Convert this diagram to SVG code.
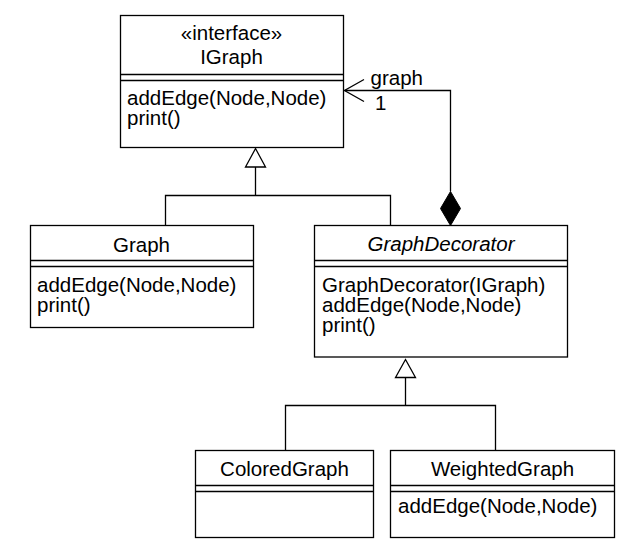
<svg xmlns="http://www.w3.org/2000/svg" width="629" height="550" viewBox="0 0 629 550">
<style>
  .box { fill: #ffffff; stroke: #000000; stroke-width: 1.3; }
  .sep { stroke: #000000; stroke-width: 1.3; fill: none; }
  .line { stroke: #000000; stroke-width: 1.3; fill: none; }
  text { font-family: "Liberation Sans", Arial, sans-serif; font-size: 20.5px; fill: #000000; }
  .c { text-anchor: middle; }
  .i { font-style: italic; }
</style>
<rect width="629" height="550" fill="#ffffff"/>
<g id="connectors">
  <polyline class="line" points="255.5,167 255.5,195.5"/>
  <polyline class="line" points="165.5,225.5 165.5,195.5 390.5,195.5 390.5,225.5"/>
  <polygon class="line" style="fill:#ffffff" points="255.5,148.5 265.5,167 245.5,167"/>
  <polyline class="line" points="405.5,377.5 405.5,405.5"/>
  <polyline class="line" points="285.5,450.5 285.5,405.5 495.5,405.5 495.5,450.5"/>
  <polygon class="line" style="fill:#ffffff" points="405.5,359.5 415.5,377.5 395.5,377.5"/>
  <polyline class="line" points="450.5,191.5 450.5,90.5 344.5,90.5"/>
  <polyline class="line" points="364,79.5 344.5,90.5 364,101.5"/>
  <polygon style="fill:#000000;stroke:#000000;stroke-width:1" points="450.5,191.5 460.5,208.5 450.5,225.5 440.5,208.5"/>
  <text x="370.5" y="85">graph</text>
  <text x="375" y="110">1</text>
</g>
<g id="IGraph">
  <rect class="box" x="120.5" y="15.5" width="223" height="132"/>
  <line class="sep" x1="120.5" y1="74.5" x2="343.5" y2="74.5"/>
  <line class="sep" x1="120.5" y1="80.5" x2="343.5" y2="80.5"/>
  <text class="c" x="231.5" y="40">«interface»</text>
  <text class="c" x="231.5" y="64">IGraph</text>
  <text x="127" y="105">addEdge(Node,Node)</text>
  <text x="127" y="125">print()</text>
</g>
<g id="Graph">
  <rect class="box" x="30.5" y="225.5" width="223" height="102"/>
  <line class="sep" x1="30.5" y1="260.5" x2="253.5" y2="260.5"/>
  <line class="sep" x1="30.5" y1="266.5" x2="253.5" y2="266.5"/>
  <text class="c" x="141.5" y="251.5">Graph</text>
  <text x="37" y="291.5">addEdge(Node,Node)</text>
  <text x="37" y="311.5">print()</text>
</g>
<g id="GraphDecorator">
  <rect class="box" x="314.5" y="225.5" width="253" height="131.5"/>
  <line class="sep" x1="314.5" y1="260.5" x2="567.5" y2="260.5"/>
  <line class="sep" x1="314.5" y1="266.5" x2="567.5" y2="266.5"/>
  <text class="c i" x="441" y="250.5">GraphDecorator</text>
  <text x="322" y="291.5">GraphDecorator(IGraph)</text>
  <text x="322" y="311.5">addEdge(Node,Node)</text>
  <text x="322" y="331.5">print()</text>
</g>
<g id="ColoredGraph">
  <rect class="box" x="195.5" y="450.5" width="178" height="87"/>
  <line class="sep" x1="195.5" y1="485.5" x2="373.5" y2="485.5"/>
  <line class="sep" x1="195.5" y1="491.5" x2="373.5" y2="491.5"/>
  <text class="c" x="284.5" y="476">ColoredGraph</text>
</g>
<g id="WeightedGraph">
  <rect class="box" x="390.5" y="450.5" width="224" height="87"/>
  <line class="sep" x1="390.5" y1="485.5" x2="614.5" y2="485.5"/>
  <line class="sep" x1="390.5" y1="491.5" x2="614.5" y2="491.5"/>
  <text class="c" x="502.5" y="476">WeightedGraph</text>
  <text x="398" y="512.5">addEdge(Node,Node)</text>
</g>
</svg>
